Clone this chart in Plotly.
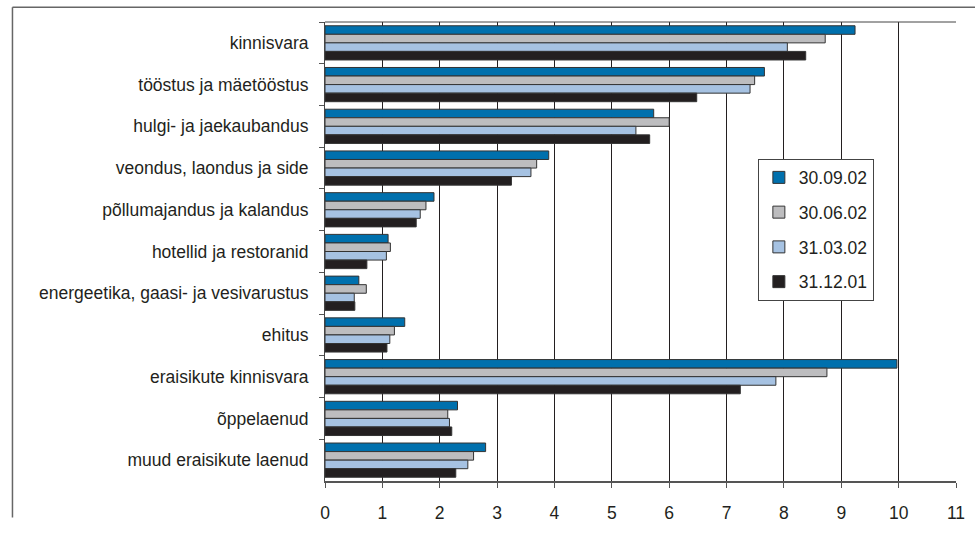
import plotly.graph_objects as go

categories = [
    "kinnisvara",
    "tööstus ja mäetööstus",
    "hulgi- ja jaekaubandus",
    "veondus, laondus ja side",
    "põllumajandus ja kalandus",
    "hotellid ja restoranid",
    "energeetika, gaasi- ja vesivarustus",
    "ehitus",
    "eraisikute kinnisvara",
    "õppelaenud",
    "muud eraisikute laenud",
]

series_names = ["30.09.02", "30.06.02", "31.03.02", "31.12.01"]

v_300902 = [9.24, 7.66, 5.73, 3.90, 1.90, 1.10, 0.59, 1.39, 9.97, 2.31, 2.80]
v_300602 = [8.72, 7.49, 6.00, 3.69, 1.76, 1.14, 0.72, 1.21, 8.75, 2.14, 2.59]
v_310302 = [8.06, 7.41, 5.42, 3.59, 1.66, 1.07, 0.51, 1.13, 7.86, 2.17, 2.49]
v_311201 = [8.38, 6.48, 5.66, 3.25, 1.59, 0.73, 0.52, 1.08, 7.24, 2.21, 2.28]

series_values = [v_300902, v_300602, v_310302, v_311201]
colors = ["#0070AD", "#BDBDBF", "#A6C2E2", "#231F20"]

x_ticks = list(range(0, 12))

FONT = "Liberation Sans, Arial, sans-serif"

fig = go.Figure()
for name, vals, col in zip(series_names, series_values, colors):
    fig.add_trace(go.Bar(
        y=categories,
        x=vals,
        name=name,
        orientation="h",
        legendgroup=name,
        marker=dict(color=col, line=dict(color="#333333", width=1)),
    ))

fig.update_layout(
    width=975,
    height=533,
    margin=dict(l=325, r=10, t=22, b=47),
    paper_bgcolor="white",
    plot_bgcolor="white",
    barmode="group",
    bargap=0.18,
    bargroupgap=0.0,
    font=dict(family=FONT, size=17.5, color="#231F20"),
    showlegend=True,
    legend=dict(
        x=0.686, y=0.7026, xanchor="left", yanchor="top",
        bgcolor="white",
        bordercolor="#444444",
        borderwidth=1,
        tracegroupgap=9,
        font=dict(family=FONT, size=17.5, color="#231F20"),
    ),
    xaxis=dict(
        range=[0, 11],
        tickvals=x_ticks,
        ticktext=[str(t) for t in x_ticks],
        showgrid=True,
        gridcolor="#231F20",
        gridwidth=1,
        showline=True,
        linecolor="#555555",
        linewidth=2,
        ticks="outside",
        ticklen=5,
        tickcolor="#555555",
        ticklabelstandoff=10,
        zeroline=False,
        fixedrange=True,
    ),
    yaxis=dict(
        autorange="reversed",
        showline=True,
        linecolor="#444444",
        linewidth=1,
        ticks="outside",
        tickson="boundaries",
        ticklen=5,
        tickcolor="#555555",
        ticklabelstandoff=12,
        showgrid=False,
        fixedrange=True,
    ),
    shapes=[
        # top edge of the plotting area
        dict(type="line", xref="paper", yref="paper", x0=0, x1=1, y0=1, y1=1,
             line=dict(color="#444444", width=1)),
        # outer frame of the chart (top and left edges)
        dict(type="line", xref="paper", yref="paper", x0=-0.4953, x1=1.05,
             y0=1.0323, y1=1.0323, line=dict(color="#666666", width=1.5)),
        dict(type="line", xref="paper", yref="paper", x0=-0.4953, x1=-0.4953,
             y0=1.0323, y1=-0.0797, line=dict(color="#666666", width=1.5)),
    ],
)

fig.write_html("out.html")
